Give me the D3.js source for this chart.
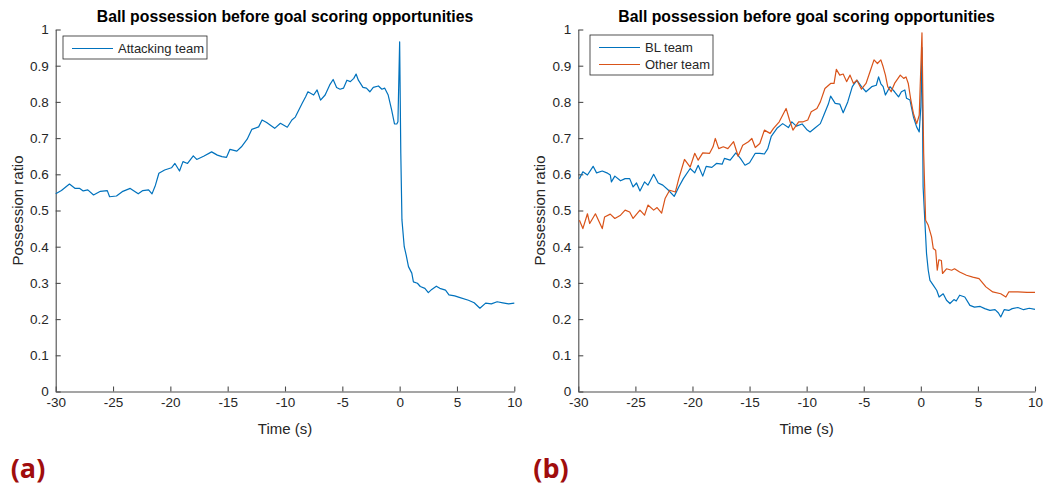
<!DOCTYPE html>
<html>
<head>
<meta charset="utf-8">
<script src="https://cdn.jsdelivr.net/npm/d3@7"></script>
<style>
  body { margin: 0; background: #fff; }
  svg { display: block; }
  .axis path, .axis line { stroke: #4d4d4d; stroke-width: 1.1; }
  .axis text { fill: #262626; font-family: "Liberation Sans", Arial, sans-serif; font-size: 13.5px; }
</style>
</head>
<body>
<svg id="chart" width="1045" height="488"></svg>
<script>
"use strict";

// x ticks and y ticks shared by both panels
var timeTicks = [-30, -25, -20, -15, -10, -5, 0, 5, 10];
var ratioTicks = [0, 0.1, 0.2, 0.3, 0.4, 0.5, 0.6, 0.7, 0.8, 0.9, 1];

// panel (a) : attacking team
var attackTime = [-30, -29.5, -28.8, -28.3, -27.9, -27.6, -27.2, -26.7, -26.1, -25.5, -25.3, -24.7, -24.2, -23.5, -22.8, -22.4, -21.9, -21.6, -21.3, -21.0,
  -20.5, -19.9, -19.6, -19.2, -18.9, -18.5, -18.0, -17.7, -17.1, -16.4, -15.9, -15.5, -15.1, -14.8, -14.2, -13.8, -13.3, -12.9, -12.3, -12.0,
  -11.6, -11.3, -10.9, -10.4, -9.8, -9.4, -9.1, -8.5, -8.2, -8.0, -7.5, -7.2, -6.9, -6.5, -6.1, -5.8, -5.5, -5.2, -4.9, -4.6,
  -4.3, -4.0, -3.8, -3.6, -3.2, -2.9, -2.6, -2.3, -1.85, -1.55, -1.3, -1.0, -0.7, -0.45, -0.25, -0.15, 0.0, 0.1, 0.2, 0.4,
  0.57, 0.77, 1.06, 1.2, 1.55, 1.8, 2.2, 2.5, 2.8, 3.2, 3.5, 4.0, 4.3, 4.8, 5.2, 6.0, 6.5, 7.0, 7.5, 8.0,
  8.5, 9.0, 9.5, 10];
var attacking = [0.546, 0.555, 0.573, 0.561, 0.561, 0.554, 0.557, 0.543, 0.553, 0.555, 0.538, 0.540, 0.552, 0.561, 0.546, 0.555, 0.557, 0.546, 0.570, 0.603,
  0.612, 0.618, 0.630, 0.609, 0.635, 0.630, 0.651, 0.641, 0.650, 0.662, 0.653, 0.649, 0.647, 0.669, 0.664, 0.676, 0.697, 0.724, 0.731, 0.750,
  0.743, 0.736, 0.727, 0.741, 0.730, 0.750, 0.758, 0.796, 0.814, 0.828, 0.819, 0.833, 0.805, 0.819, 0.847, 0.862, 0.840, 0.835, 0.838, 0.860,
  0.856, 0.865, 0.877, 0.860, 0.840, 0.838, 0.828, 0.840, 0.844, 0.835, 0.838, 0.819, 0.778, 0.739, 0.739, 0.745, 0.966, 0.658, 0.474, 0.400,
  0.377, 0.345, 0.327, 0.303, 0.299, 0.290, 0.285, 0.273, 0.282, 0.291, 0.285, 0.280, 0.267, 0.264, 0.260, 0.252, 0.245, 0.230, 0.244, 0.242,
  0.248, 0.245, 0.242, 0.244];

// panel (b) : BL team
var blTime = [-29.9, -29.6, -29.2, -28.7, -28.4, -27.9, -27.5, -27.2, -27.1, -26.8, -26.3, -25.9, -25.5, -25.2, -24.9, -24.6, -24.2, -23.9, -23.4, -23.0,
  -22.6, -22.1, -21.6, -21.2, -20.8, -20.2, -19.8, -19.5, -19.1, -18.8, -18.3, -17.9, -17.4, -17.2, -16.7, -16.2, -15.8, -15.4, -15.0, -14.5,
  -14.1, -13.7, -13.4, -13.1, -12.6, -12.1, -11.6, -11.3, -10.9, -10.4, -10.0, -9.7, -9.3, -8.8, -8.5, -8.1, -7.9, -7.5, -7.1, -6.8,
  -6.4, -6.0, -5.6, -5.2, -4.8, -4.3, -3.9, -3.7, -3.5, -3.3, -3.1, -2.7, -2.3, -1.95, -1.7, -1.4, -1.25, -0.95, -0.65, -0.37,
  -0.14, 0.0, 0.1, 0.2, 0.35, 0.5, 0.65, 0.8, 1.1, 1.4, 1.6, 1.96, 2.25, 2.55, 2.9, 3.1, 3.4, 3.85, 4.3, 4.7,
  5.2, 5.6, 6.05, 6.5, 6.8, 7.0, 7.3, 7.7, 8.0, 8.5, 9.0, 9.5, 10];
var blTeam = [0.588, 0.607, 0.598, 0.622, 0.604, 0.609, 0.604, 0.598, 0.579, 0.595, 0.582, 0.588, 0.588, 0.565, 0.576, 0.554, 0.579, 0.570, 0.600, 0.576,
  0.570, 0.556, 0.539, 0.565, 0.588, 0.616, 0.604, 0.625, 0.595, 0.622, 0.619, 0.630, 0.628, 0.644, 0.639, 0.659, 0.644, 0.625, 0.632, 0.658,
  0.658, 0.656, 0.671, 0.705, 0.727, 0.740, 0.729, 0.745, 0.733, 0.739, 0.724, 0.717, 0.727, 0.740, 0.763, 0.794, 0.816, 0.796, 0.794, 0.770,
  0.800, 0.842, 0.860, 0.842, 0.828, 0.842, 0.846, 0.869, 0.850, 0.842, 0.819, 0.842, 0.828, 0.814, 0.828, 0.833, 0.810, 0.805, 0.759, 0.731,
  0.717, 0.786, 0.950, 0.565, 0.473, 0.381, 0.335, 0.307, 0.293, 0.279, 0.261, 0.270, 0.252, 0.243, 0.254, 0.250, 0.266, 0.261, 0.238, 0.233,
  0.235, 0.229, 0.224, 0.226, 0.217, 0.206, 0.226, 0.224, 0.229, 0.232, 0.226, 0.230, 0.227];

// panel (b) : other team
var otherTime = [-29.9, -29.6, -29.2, -29.0, -28.5, -27.9, -27.7, -27.2, -26.8, -26.3, -25.9, -25.5, -25.2, -24.6, -24.2, -23.9, -23.4, -23.1, -22.7, -22.4,
  -22.0, -21.5, -21.2, -20.7, -20.2, -19.8, -19.5, -19.1, -18.5, -18.2, -18.0, -17.7, -17.3, -16.9, -16.4, -16.0, -15.6, -15.1, -14.8, -14.5,
  -14.1, -13.7, -13.2, -12.9, -12.4, -11.8, -11.5, -11.2, -10.7, -10.3, -9.9, -9.6, -9.1, -8.8, -8.4, -7.9, -7.6, -7.4, -7.1, -6.8,
  -6.5, -6.2, -5.9, -5.6, -5.2, -4.8, -4.4, -4.1, -3.8, -3.5, -3.3, -3.1, -2.9, -2.6, -2.3, -1.8, -1.5, -1.3, -1.1, -0.9,
  -0.65, -0.36, -0.14, 0.1, 0.25, 0.42, 0.65, 0.94, 1.09, 1.3, 1.44, 1.58, 1.8, 1.9, 2.25, 2.7, 2.95, 3.4, 4.0, 4.55,
  5.1, 5.7, 6.3, 7.0, 7.45, 7.7, 8.5, 9.3, 10];
var otherTeam = [0.473, 0.450, 0.491, 0.464, 0.491, 0.450, 0.482, 0.490, 0.478, 0.487, 0.501, 0.496, 0.478, 0.501, 0.487, 0.515, 0.501, 0.508, 0.493, 0.533,
  0.556, 0.551, 0.588, 0.641, 0.620, 0.658, 0.639, 0.659, 0.658, 0.676, 0.699, 0.671, 0.676, 0.671, 0.690, 0.650, 0.680, 0.690, 0.699, 0.674,
  0.685, 0.722, 0.713, 0.727, 0.745, 0.782, 0.750, 0.722, 0.745, 0.745, 0.750, 0.773, 0.782, 0.800, 0.837, 0.851, 0.851, 0.890, 0.874, 0.877,
  0.856, 0.874, 0.851, 0.860, 0.835, 0.851, 0.888, 0.916, 0.906, 0.916, 0.897, 0.874, 0.842, 0.828, 0.851, 0.874, 0.865, 0.869, 0.851, 0.810,
  0.768, 0.740, 0.763, 0.991, 0.658, 0.473, 0.459, 0.427, 0.395, 0.390, 0.335, 0.364, 0.362, 0.326, 0.339, 0.335, 0.339, 0.330, 0.321, 0.316,
  0.312, 0.289, 0.275, 0.270, 0.261, 0.275, 0.275, 0.274, 0.274];

var blue = "#0072BD";
var orange = "#D95319";
var font = "'Liberation Sans', Arial, sans-serif";

var svg = d3.select("#chart");

/**
 * Dessine un panneau (axes, titre, courbes, legende).
 *
 * @param box     position des axes {left, right, top, bottom}
 * @param series  liste de {times, values, color, name}
 * @param legend  boite de legende {x, y, w}
 * @param tag     "(a)" ou "(b)"
 */
function drawPanel(box, series, legend, tag) {
  var x = d3.scaleLinear().domain([-30, 10]).range([box.left, box.right]);
  var y = d3.scaleLinear().domain([0, 1]).range([box.bottom, box.top]);

  var g = svg.append("g");

  //axes, ticks pointing inward like MATLAB (plain hyphen for negatives)
  g.append("g")
    .attr("class", "axis")
    .attr("transform", "translate(0," + box.bottom + ")")
    .call(d3.axisBottom(x).tickValues(timeTicks).tickSizeInner(-5).tickSizeOuter(0).tickPadding(6)
      .tickFormat(function(d) { return String(d); }));

  g.append("g")
    .attr("class", "axis")
    .attr("transform", "translate(" + box.left + ",0)")
    .call(d3.axisLeft(y).tickValues(ratioTicks).tickSizeInner(-5).tickSizeOuter(0).tickPadding(7)
      .tickFormat(function(d) { return String(+d.toFixed(1)); }));

  //the curves
  var line = d3.line()
    .x(function(d) { return x(d.t); })
    .y(function(d) { return y(d.v); });

  series.forEach(function(s) {
    var pts = s.times.map(function(t, i) { return { t: t, v: s.values[i] }; });
    g.append("path")
      .datum(pts)
      .attr("fill", "none")
      .attr("stroke", s.color)
      .attr("stroke-width", 1.2)
      .attr("stroke-linejoin", "round")
      .attr("d", line);
  });

  //title and labels
  g.append("text")
    .attr("x", (box.left + box.right) / 2)
    .attr("y", 22)
    .attr("text-anchor", "middle")
    .attr("font-family", font)
    .attr("font-weight", "bold")
    .attr("font-size", "15.8px")
    .attr("fill", "#000")
    .text("Ball possession before goal scoring opportunities");

  g.append("text")
    .attr("x", (box.left + box.right) / 2)
    .attr("y", 434)
    .attr("text-anchor", "middle")
    .attr("font-family", font)
    .attr("font-size", "15px")
    .attr("fill", "#262626")
    .text("Time (s)");

  g.append("text")
    .attr("transform", "translate(" + (box.left - 33) + "," + ((box.top + box.bottom) / 2) + ") rotate(-90)")
    .attr("text-anchor", "middle")
    .attr("font-family", font)
    .attr("font-size", "15px")
    .attr("fill", "#262626")
    .text("Possession ratio");

  //legend
  var rowH = 17;
  var lg = g.append("g").attr("transform", "translate(" + legend.x + "," + legend.y + ")");
  lg.append("rect")
    .attr("width", legend.w)
    .attr("height", 6 + rowH * series.length)
    .attr("fill", "#fff")
    .attr("stroke", "#262626")
    .attr("stroke-width", 0.8);
  series.forEach(function(s, i) {
    var cy = 12.5 + rowH * i;
    lg.append("line")
      .attr("x1", 9).attr("x2", 50)
      .attr("y1", cy).attr("y2", cy)
      .attr("stroke", s.color)
      .attr("stroke-width", 1.2);
    lg.append("text")
      .attr("x", 55)
      .attr("y", cy + 4.5)
      .attr("font-family", font)
      .attr("font-size", "13px")
      .attr("fill", "#262626")
      .text(s.name);
  });

  //panel tag
  g.append("text")
    .attr("x", box.left - 45)
    .attr("y", 478)
    .attr("font-family", "'Open Sans', 'DejaVu Sans', sans-serif")
    .attr("font-weight", "bold")
    .attr("font-size", "27px")
    .attr("fill", "#a00d0d")
    .text(tag);
}

drawPanel({ left: 55.7, right: 514.3, top: 29.5, bottom: 391.5 },
  [{ times: attackTime, values: attacking, color: blue, name: "Attacking team" }],
  { x: 63, y: 36, w: 144 }, "(a)");

drawPanel({ left: 578.3, right: 1035, top: 29.5, bottom: 391.5 },
  [{ times: blTime, values: blTeam, color: blue, name: "BL team" },
   { times: otherTime, values: otherTeam, color: orange, name: "Other team" }],
  { x: 590, y: 35, w: 123 }, "(b)");
</script>
</body>
</html>
